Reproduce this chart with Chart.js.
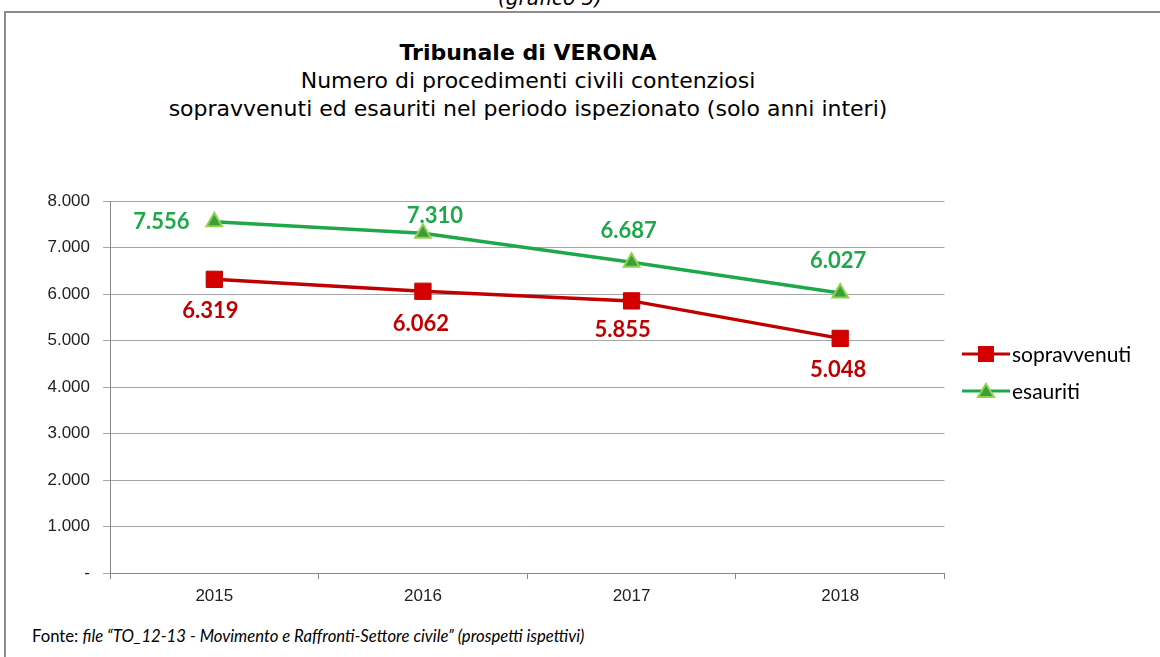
<!DOCTYPE html>
<html>
<head>
<meta charset="utf-8">
<script src="https://cdn.jsdelivr.net/npm/chart.js@4"></script>
<style>
  body { margin: 0; background: #fff; width: 1160px; height: 657px; overflow: hidden; position: relative; }
  .caption { position: absolute; top: -14px; left: 0; width: 1100px; text-align: center;
             font: italic 20px 'DejaVu Sans', sans-serif; color: #000; }
  .frame { position: absolute; left: 4px; top: 11px; width: 1200px; height: 700px;
           border: 2px solid #8c8c8c; box-sizing: border-box; }
  .title { position: absolute; top: 39px; left: 0; width: 1056px; text-align: center;
           font: 22px 'DejaVu Sans', sans-serif; color: #000; line-height: 28px; }
  .title b { font-weight: bold; font-size: 22px; }
  #wrap { position: absolute; left: 0; top: 178px; width: 957px; height: 435px; }
  .legend { position: absolute; left: 962px; top: 335px; font: 21px Lato, sans-serif; color: #000; }
  .legend div { height: 37px; display: flex; align-items: center; }
  .legend canvas { margin-right: 2px; }
  .source { position: absolute; left: 32px; top: 626px; font: 16.7px Lato, sans-serif; color: #000; }
</style>
</head>
<body>
<div class="caption">(grafico 5)</div>
<div class="frame"></div>
<div class="title"><b>Tribunale di VERONA</b><br>Numero di procedimenti civili contenziosi<br>sopravvenuti ed esauriti nel periodo ispezionato (solo anni interi)</div>
<div id="wrap"><canvas id="chart"></canvas></div>
<div class="legend" id="legend"></div>
<div class="source">Fonte: <i>file “TO_12-13 - Movimento e Raffronti-Settore civile” (prospetti ispettivi)</i></div>

<script>
// ─── Data ──────────────────────────────────────────────
const years = ['2015', '2016', '2017', '2018'];
const sopravvenuti = [6319, 6062, 5855, 5048];
const esauriti = [7556, 7310, 6687, 6027];
const yTicks = [0, 1000, 2000, 3000, 4000, 5000, 6000, 7000, 8000];

const RED = '#c00000';
const GREEN = '#1fa84a';

const fmt = v => v === 0 ? '-' : v.toLocaleString('it-IT');

// label offsets relative to each point (dx, dy)
const labelPos = {
    0: [[-4, 32], [-2, 33], [-9, 29], [-2, 32]],
    1: [[-53, 0], [12, -17], [-3, -31], [-2, -32]],
};

const dataLabels = {
    id: 'dataLabels',
    afterDatasetsDraw(chart) {
        const ctx = chart.ctx;
        ctx.save();
        ctx.font = "bold 22px Lato, sans-serif";
        ctx.textAlign = 'center';
        ctx.textBaseline = 'middle';
        chart.data.datasets.forEach((ds, i) => {
            const meta = chart.getDatasetMeta(i);
            ctx.fillStyle = ds.borderColor;
            meta.data.forEach((pt, j) => {
                const [dx, dy] = labelPos[i][j];
                ctx.fillText(fmt(ds.data[j]), pt.x + dx, pt.y + dy);
            });
        });
        ctx.restore();
    }
};

new Chart(document.getElementById('chart'), {
    type: 'line',
    data: {
        labels: years,
        datasets: [
            {
                label: 'sopravvenuti',
                data: sopravvenuti,
                borderColor: RED,
                backgroundColor: '#d40000',
                borderWidth: 3.5,
                pointStyle: 'rect',
                pointRadius: 11.5,
                pointBorderWidth: 1,
                pointBorderColor: RED,
                tension: 0,
            },
            {
                label: 'esauriti',
                data: esauriti,
                borderColor: GREEN,
                backgroundColor: '#3a9e3a',
                borderWidth: 3.5,
                pointStyle: 'triangle',
                pointRadius: 9,
                pointBorderWidth: 2,
                pointBorderColor: '#92d050',
                tension: 0,
            },
        ]
    },
    options: {
        responsive: true,
        maintainAspectRatio: false,
        animation: false,
        layout: { padding: { top: 10, right: 6, left: 0, bottom: 0 } },
        plugins: {
            legend: { display: false },
            tooltip: { enabled: false },
        },
        scales: {
            x: {
                offset: true,
                afterFit: s => { s.height = 40; },
                grid: { offset: true, drawOnChartArea: false, tickLength: 6, color: '#888' },
                border: { color: '#888' },
                ticks: { color: '#222', padding: 7, font: { family: 'Liberation Sans', size: 17 } },
            },
            y: {
                min: 0,
                max: 8000,
                afterFit: s => { s.width = 110; },
                afterBuildTicks: s => { s.ticks = yTicks.map(v => ({ value: v })); },
                grid: { color: '#a6a6a6', tickLength: 7 },
                border: { color: '#888' },
                ticks: {
                    color: '#222', padding: 13,
                    font: { family: 'Liberation Sans', size: 17 },
                    callback: v => fmt(v),
                },
            },
        },
    },
    plugins: [dataLabels],
});

// ─── Legend ────────────────────────────────────────────
const legend = document.getElementById('legend');
[['sopravvenuti', RED, 'rect'], ['esauriti', GREEN, 'tri']].forEach(([name, color, shape]) => {
    const row = document.createElement('div');
    const c = document.createElement('canvas');
    c.width = 48; c.height = 20;
    const g = c.getContext('2d');
    g.strokeStyle = color; g.lineWidth = 3;
    g.beginPath(); g.moveTo(0, 10); g.lineTo(48, 10); g.stroke();
    if (shape === 'rect') {
        g.fillStyle = '#d40000';
        g.fillRect(16, 2, 16, 16);
    } else {
        g.fillStyle = '#3a9e3a'; g.strokeStyle = '#92d050'; g.lineWidth = 2;
        g.beginPath(); g.moveTo(24, 3); g.lineTo(32, 16); g.lineTo(16, 16); g.closePath();
        g.fill(); g.stroke();
    }
    row.appendChild(c);
    row.appendChild(document.createTextNode(name));
    legend.appendChild(row);
});
</script>
</body>
</html>
